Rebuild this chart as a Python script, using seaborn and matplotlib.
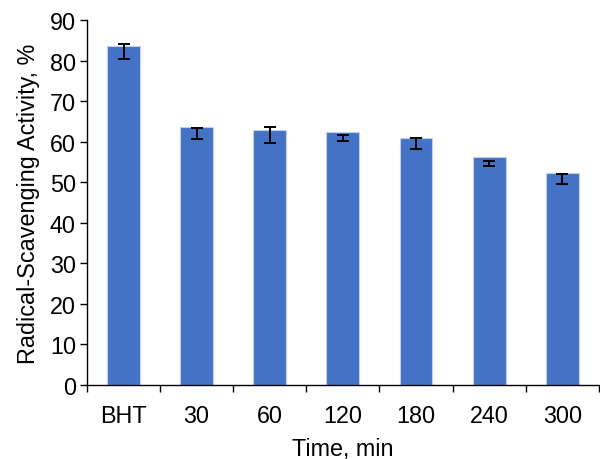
import matplotlib
matplotlib.use("Agg")
import matplotlib.pyplot as plt
import seaborn as sns
import numpy as np
import pandas as pd

categories = ["BHT", "30", "60", "120", "180", "240", "300"]
activity = [83.6, 63.5, 63.0, 62.3, 61.0, 56.1, 52.2]
err_low = [80.5, 60.6, 59.6, 60.1, 58.2, 53.9, 49.6]
err_high = [84.0, 63.4, 63.7, 61.6, 61.0, 55.3, 51.9]
y_ticks = [0, 10, 20, 30, 40, 50, 60, 70, 80, 90]

sns.set_style("white")
plt.rcParams["font.family"] = ["Liberation Sans", "DejaVu Sans"]
plt.rcParams["text.color"] = "black"
plt.rcParams["axes.labelcolor"] = "black"
plt.rcParams["xtick.color"] = "black"
plt.rcParams["ytick.color"] = "black"

FS = 16.8

df = pd.DataFrame({"Time": categories, "Activity": activity})

fig = plt.figure(figsize=(6, 4.6), dpi=100)
ax = fig.add_axes([0.145, 0.1615, 0.853, 0.7925])
sns.barplot(data=df, x="Time", y="Activity", color="#4472C4", saturation=1,
            width=0.45, edgecolor="#BFD0EE", linewidth=0.8, ax=ax, errorbar=None)

x = np.arange(len(categories))
centers = [(lo + hi) / 2 for lo, hi in zip(err_low, err_high)]
half = [(hi - lo) / 2 for lo, hi in zip(err_low, err_high)]
ax.errorbar(x, centers, yerr=half, fmt="none", ecolor="black", elinewidth=1.4,
            capsize=4, capthick=1.4, zorder=5)

ax.set_xlim(-0.5, len(categories) - 0.5)
ax.set_ylim(0, 90)
ax.set_yticks(y_ticks)
ax.set_xticks(x)
ax.set_xticklabels(categories)
ax.set_xticks(np.arange(len(categories) + 1) - 0.5, minor=True)
ax.tick_params(axis="x", which="major", length=0, labelsize=FS, pad=14)
ax.tick_params(axis="x", which="minor", length=5, width=1, color="black", direction="out")
ax.tick_params(axis="y", length=5, width=1, color="black", direction="out", labelsize=FS, pad=3)
ax.tick_params(bottom=True, left=True, which="both")

for s in ["top", "right"]:
    ax.spines[s].set_visible(False)
for s in ["left", "bottom"]:
    ax.spines[s].set_color("black")
    ax.spines[s].set_linewidth(1)

ax.set_xlabel("Time, min", fontsize=FS, labelpad=7)
ax.set_ylabel("Radical-Scavenging Activity, %", fontsize=FS, labelpad=7)

fig.savefig("out.png", dpi=100)
